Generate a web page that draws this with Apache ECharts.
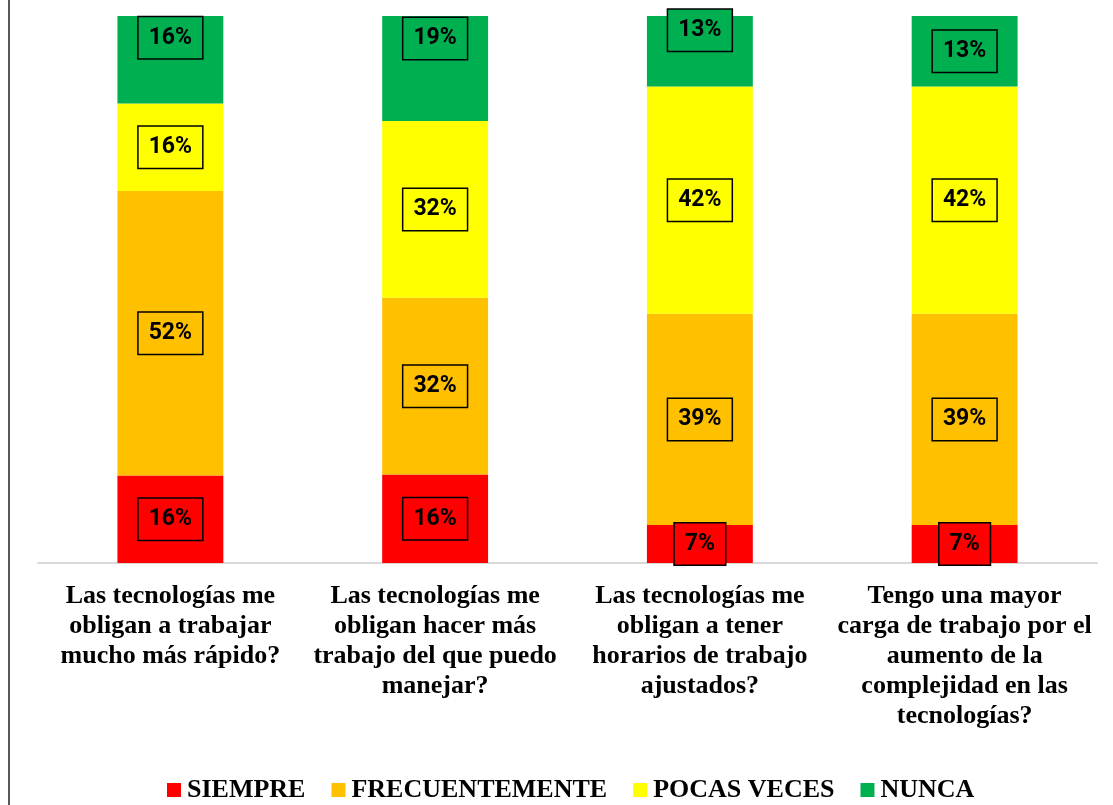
<!DOCTYPE html>
<html>
<head>
<meta charset="utf-8">
<script src="https://cdn.jsdelivr.net/npm/echarts@6/dist/echarts.min.js"></script>
<style>
html,body{margin:0;padding:0;background:#fff;}
#chart{width:1113px;height:805px;}
</style>
</head>
<body>
<div id="chart"></div>
<script>
const categories = [
  "Las tecnologías me\nobligan a trabajar\nmucho más rápido?",
  "Las tecnologías me\nobligan hacer más\ntrabajo del que puedo\nmanejar?",
  "Las tecnologías me\nobligan a tener\nhorarios de trabajo\najustados?",
  "Tengo una mayor\ncarga de trabajo por el\naumento de la\ncomplejidad en las\ntecnologías?"
];
const seriesNames = ["SIEMPRE", "FRECUENTEMENTE", "POCAS VECES", "NUNCA"];
const siempre = [16, 16, 7, 7];
const frecuentemente = [52, 32, 39, 39];
const pocasVeces = [16, 32, 42, 42];
const nunca = [16, 19, 13, 13];

const colors = ["#FF0000", "#FFC000", "#FFFF00", "#00B050"];
const allValues = [siempre, frecuentemente, pocasVeces, nunca];
const totals = categories.map((c, i) => allValues.reduce((s, arr) => s + arr[i], 0));
// label nudges (style, not data) for the top segment labels moved in the original
const topLabelOffsets = [-22, -30, -21, 0];

const series = allValues.map((arr, si) => ({
  name: seriesNames[si],
  type: 'bar',
  stack: 'total',
  barWidth: '40%',
  itemStyle: { color: colors[si] },
  data: arr.map((v, i) => {
    const item = { value: v / totals[i] * 100, raw: v };
    if (si === 3 && topLabelOffsets[i]) {
      item.label = { offset: [0, topLabelOffsets[i]] };
    }
    return item;
  }),
  label: {
    show: true,
    position: 'inside',
    formatter: p => p.data.raw + '%',
    fontFamily: 'Roboto, Liberation Sans, sans-serif',
    fontWeight: 'bold',
    fontSize: 23,
    lineHeight: 24,
    color: '#000',
    borderColor: '#000',
    borderWidth: 1.5,
    padding: [9, 10, 8, 10],
    backgroundColor: colors[si]
  }
}));

const chart = echarts.init(document.getElementById('chart'));
chart.setOption({
  animation: false,
  backgroundColor: '#fff',
  grid: { left: 38, right: 16, top: 16, bottom: 242, containLabel: false },
  legend: {
    data: seriesNames,
    top: 772,
    left: 162,
    itemWidth: 14,
    itemHeight: 14,
    itemGap: 26,
    icon: 'rect',
    textStyle: {
      fontFamily: 'Liberation Serif, Times New Roman, serif',
      fontWeight: 'bold',
      fontSize: 26,
      color: '#000',
      padding: [0, 0, 0, 1]
    }
  },
  xAxis: {
    type: 'category',
    data: categories,
    axisLine: { lineStyle: { color: '#D9D9D9', width: 2 } },
    axisTick: { show: false },
    axisLabel: {
      interval: 0,
      margin: 18,
      fontFamily: 'Liberation Serif, Times New Roman, serif',
      fontWeight: 'bold',
      fontSize: 26,
      lineHeight: 30,
      color: '#000',
      align: 'center'
    }
  },
  yAxis: {
    type: 'value',
    min: 0,
    max: 100,
    show: false,
    splitLine: { show: false }
  },
  graphic: [{
    type: 'line',
    shape: { x1: 9, y1: 0, x2: 9, y2: 805 },
    style: { stroke: '#222', lineWidth: 1.5 }
  }],
  series: series
});
</script>
</body>
</html>
